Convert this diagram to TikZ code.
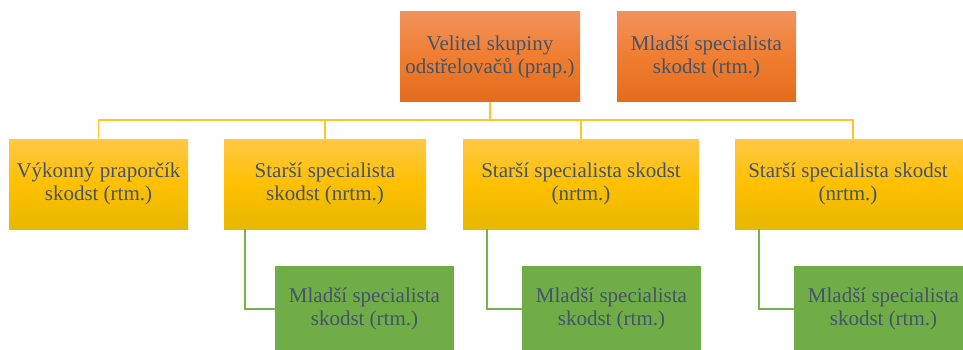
\documentclass[tikz,border=0pt]{standalone}
\usepackage{fontspec}
\setmainfont{Liberation Serif}
\newfontfamily\boxfont{Liberation Serif}
\usepackage{tikz}
\usetikzlibrary{positioning,calc}
\usepackage{xcolor}
\definecolor{textgray}   {RGB}{ 68,  84, 106}
\definecolor{orangetop}  {RGB}{241, 146,  92}
\definecolor{orangemid}  {RGB}{240, 125,  48}
\definecolor{orangebot}  {RGB}{228, 108,  28}
\definecolor{yellowtop}  {RGB}{255, 200,  70}
\definecolor{yellowmid}  {RGB}{255, 192,   0}
\definecolor{yellowbot}  {RGB}{230, 184,   0}
\definecolor{linkyellow} {RGB}{255, 196,  40}
\definecolor{linkgreen}  {RGB}{120, 178,  80}
\definecolor{boxgreen}   {RGB}{112, 173,  71}

\begin{document}
\begin{tikzpicture}[
  x=1pt,y=-1pt,
  every node/.style={font=\boxfont\fontsize{21}{23}\selectfont,text=textgray,
    align=center,inner sep=0pt},
  chief/.style={minimum width=180pt,minimum height=90pt,
    top color=orangetop,bottom color=orangebot,middle color=orangemid},
  senior/.style={minimum height=90pt,
    top color=yellowtop,bottom color=yellowbot,middle color=yellowmid},
  junior/.style={minimum width=179pt,minimum height=86pt,fill=boxgreen},
  yline/.style={linkyellow,line width=1.5pt},
  gline/.style={linkgreen,line width=1.8pt},
]
\useasboundingbox (0,0) rectangle (963,350);
\clip (0,0) rectangle (963,350);

%% ── Row 1: command ───────────────────────────────────────────────────────
\node[chief] (velitel) at (490,57) {Velitel skupiny\\odstřelovačů (prap.)};
\node[chief,minimum width=179pt] (mladsiA) at (706.5,57)
  {Mladší specialista\\skodst (rtm.)};

%% ── Row 2: specialists ───────────────────────────────────────────────────
\node[senior,minimum width=179pt] (vykonny) at (98.5,184)
  {Výkonný praporčík\\skodst (rtm.)};
\node[senior,minimum width=202pt] (starsiA) at (325,184)
  {Starší specialista\\skodst (nrtm.)};
\node[senior,minimum width=236pt] (starsiB) at (581,184)
  {Starší specialista skodst\\(nrtm.)};
\node[senior,minimum width=236pt] (starsiC) at (853,184)
  {\hspace*{-10pt}Starší specialista skodst\\\hspace*{-10pt}(nrtm.)};

%% ── Row 3: juniors ───────────────────────────────────────────────────────
\node[junior] (mladsiB) at (364.5,309) {Mladší specialista\\skodst (rtm.)};
\node[junior] (mladsiC) at (611.5,309) {Mladší specialista\\skodst (rtm.)};
\node[junior] (mladsiD) at (883.5,309) {Mladší specialista\\skodst (rtm.)};

%% Yellow bus
\coordinate (bus) at (490,120);
\draw[yline] (velitel.south) -- (bus);
\draw[yline] (vykonny.north) |- (bus) -| (starsiC.north);
\draw[yline] (starsiA.north) -- (starsiA.north |- bus);
\draw[yline] (starsiB.north) -- (starsiB.north |- bus);

%% Green links
\draw[gline] ([xshift=-80pt]starsiA.south) |- (mladsiB.west);
\draw[gline] ([xshift=-94pt]starsiB.south) |- (mladsiC.west);
\draw[gline] ([xshift=-94pt]starsiC.south) |- (mladsiD.west);

\end{tikzpicture}
\end{document}
